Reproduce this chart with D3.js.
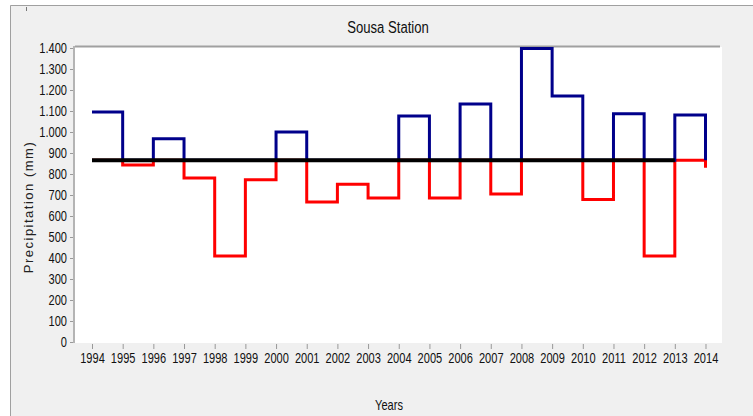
<!DOCTYPE html>
<html>
<head>
<meta charset="utf-8">
<script src="https://cdn.jsdelivr.net/npm/d3@7/dist/d3.min.js"></script>
<style>
  body { margin: 0; background: #fff; }
  .tick text { font-family: "Liberation Sans", Arial, sans-serif; font-size: 14px; fill: #111; }
  .tick line { stroke: #999; }
</style>
</head>
<body>
<script>
var width = 753,
    height = 416;

// annual precipitation (mm), Sousa station
var years = d3.range(1994, 2015);
var precip = [1095, 843, 968, 781, 410, 773, 1000, 667, 751, 686,
              1076, 686, 1133, 705, 1398, 1171, 679, 1087, 410, 1081, 830];
var mean = 865;
var yTicks = d3.range(0, 1401, 100);

var narrow = 0.79; // the original uses a condensed face

var fmt = d3.formatLocale({ decimal: ",", thousands: ".", grouping: [3], currency: ["", ""] }).format(",");

var x = d3.scaleLinear().domain([1994, 2014]).range([92, 705.5]);
var y = d3.scaleLinear().domain([0, 1400]).range([342, 48]);

var svg = d3.select("body").append("svg")
  .attr("width", width)
  .attr("height", height);

// window frame
svg.append("rect")
  .attr("x", 10).attr("y", 5)
  .attr("width", width - 10).attr("height", height - 5)
  .attr("fill", "#f0f0f0");
svg.append("path")
  .attr("d", "M10.5," + height + "V5.5H" + width)
  .attr("fill", "none").attr("stroke", "#a0a0a0");
svg.append("line")
  .attr("x1", 26.5).attr("x2", 26.5).attr("y1", 7).attr("y2", 11)
  .attr("stroke", "#777");

// plot area
svg.append("rect")
  .attr("x", 75).attr("y", 47)
  .attr("width", 647).attr("height", 296)
  .attr("fill", "#fff");
svg.append("line")
  .attr("x1", 75).attr("x2", 720).attr("y1", 46.5).attr("y2", 46.5)
  .attr("stroke", "#a0a0a0").attr("stroke-width", 2);
svg.append("line")
  .attr("x1", 74).attr("x2", 74).attr("y1", 46).attr("y2", 343)
  .attr("stroke", "#a0a0a0").attr("stroke-width", 1.5);

svg.append("g")
  .attr("transform", "translate(73,0)")
  .call(d3.axisLeft(y).tickValues(yTicks).tickFormat(fmt).tickSize(3).tickPadding(3))
  .call(function(g) {
    g.select(".domain").remove();
    g.selectAll(".tick text")
      .attr("x", -6 / narrow)
      .attr("transform", "scale(" + narrow + ",1)");
  });

svg.append("g")
  .attr("transform", "translate(0,344)")
  .call(d3.axisBottom(x).tickValues(years).tickFormat(d3.format("d")).tickSize(5).tickPadding(4))
  .call(function(g) {
    g.select(".domain").remove();
    g.selectAll(".tick text").attr("transform", "scale(" + narrow + ",1)");
  });

// step lines split at the mean
var step = d3.line()
  .x(function(d) { return x(d[0]); })
  .y(function(d) { return y(d[1]); })
  .curve(d3.curveStepAfter);

var below = years.map(function(yr, i) { return [yr, Math.min(precip[i], mean)]; });
var above = years.map(function(yr, i) { return [yr, Math.max(precip[i], mean)]; });

svg.append("path")
  .datum(below)
  .attr("d", step)
  .attr("fill", "none").attr("stroke", "#ff0000").attr("stroke-width", 3);

svg.append("path")
  .datum(above)
  .attr("d", step)
  .attr("fill", "none").attr("stroke", "#00008b").attr("stroke-width", 3);

svg.append("path")
  .datum([[1994, mean], [2013, mean]])
  .attr("d", step)
  .attr("fill", "none").attr("stroke", "#000").attr("stroke-width", 4);

// titles
svg.append("text")
  .attr("transform", "translate(388,33) scale(0.82,1)")
  .attr("text-anchor", "middle")
  .style("font-family", "'Liberation Sans', Arial, sans-serif")
  .style("font-size", "16px")
  .attr("fill", "#111")
  .text("Sousa Station");

svg.append("text")
  .attr("transform", "translate(389,410) scale(" + narrow + ",1)")
  .attr("text-anchor", "middle")
  .style("font-family", "'Liberation Sans', Arial, sans-serif")
  .style("font-size", "14px")
  .attr("fill", "#111")
  .text("Years");

svg.append("text")
  .attr("transform", "translate(33,207) rotate(-90)")
  .attr("text-anchor", "middle")
  .style("font-family", "'Liberation Sans', Arial, sans-serif")
  .style("font-size", "13px")
  .style("letter-spacing", "1.5px")
  .attr("fill", "#222")
  .text("Precipitation (mm)");
</script>
</body>
</html>
